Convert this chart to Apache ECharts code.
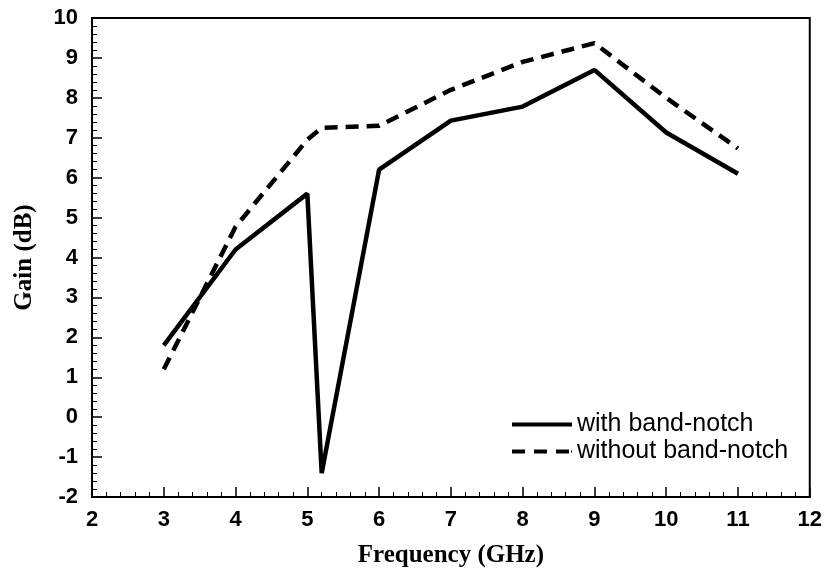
<!DOCTYPE html>
<html>
<head>
<meta charset="utf-8">
<script src="https://cdn.jsdelivr.net/npm/echarts@6/dist/echarts.min.js"></script>
<style>
  html, body { margin: 0; padding: 0; background: #fff; }
  #main { width: 825px; height: 576px; }
</style>
</head>
<body>
<div id="main"></div>
<script>
// data
var freqWith = [3, 4, 5, 5.2, 6, 7, 8, 9, 10, 11];
var gainWith = [1.8, 4.2, 5.6, -1.4, 6.2, 7.43, 7.78, 8.7, 7.13, 6.1];
var freqWithout = [3, 4, 5, 5.2, 6, 7, 8, 9, 10, 11];
var gainWithout = [1.2, 4.77, 6.95, 7.25, 7.3, 8.2, 8.9, 9.37, 8.0, 6.73];
var xRange = [2, 12];
var yRange = [-2, 10];

function pairs(xs, ys) {
  return xs.map(function (x, i) { return [x, ys[i]]; });
}

var tickFont = { color: '#000', fontFamily: 'Liberation Sans', fontWeight: 'bold', fontSize: 22 };
var titleFont = { color: '#000', fontFamily: 'Liberation Serif', fontWeight: 'bold', fontSize: 25 };

// legend keys: a solid bar and three dashes
var solidIcon = 'path://M0,0H60V4H0Z';
var dashIcon = 'path://M0,0H13V4H0ZM22,0H35V4H22ZM44,0H57V4H44ZM59,1H60V3H59Z';

var option = {
  backgroundColor: '#fff',
  animation: false,
  grid: {
    left: 92, top: 18, right: 15, bottom: 79,
    show: true, borderColor: '#000', borderWidth: 2, backgroundColor: 'transparent'
  },
  legend: {
    left: 507, top: 407,
    orient: 'vertical',
    itemWidth: 60, itemHeight: 4, itemGap: 2,
    textStyle: { color: '#000', fontFamily: 'Liberation Sans', fontSize: 25 },
    data: [
      { name: 'with band-notch', icon: solidIcon, itemStyle: { color: '#000' } },
      { name: 'without band-notch', icon: dashIcon, itemStyle: { color: '#000' } }
    ]
  },
  xAxis: {
    type: 'value',
    min: xRange[0], max: xRange[1], interval: 1,
    name: 'Frequency (GHz)', nameLocation: 'middle', nameGap: 46,
    nameTextStyle: titleFont,
    axisLine: { onZero: false, lineStyle: { color: '#000', width: 2 } },
    axisTick: { inside: true, length: 10, lineStyle: { color: '#000', width: 1.5 } },
    minorTick: { show: true, splitNumber: 5, length: 5, lineStyle: { color: '#000', width: 1 } },
    axisLabel: Object.assign({ margin: 12 }, tickFont),
    splitLine: { show: false }
  },
  yAxis: {
    type: 'value',
    min: yRange[0], max: yRange[1], interval: 1,
    name: 'Gain (dB)', nameLocation: 'middle', nameGap: 55,
    nameTextStyle: titleFont,
    axisLine: { onZero: false, lineStyle: { color: '#000', width: 2 } },
    axisTick: { inside: true, length: 10, lineStyle: { color: '#000', width: 1.5 } },
    minorTick: { show: true, splitNumber: 5, length: 5, lineStyle: { color: '#000', width: 1 } },
    axisLabel: Object.assign({ margin: 14 }, tickFont),
    splitLine: { show: false }
  },
  series: [
    {
      name: 'with band-notch',
      type: 'line',
      showSymbol: false,
      symbol: 'none',
      color: '#000',
      lineStyle: { color: '#000', width: 4.5, join: 'bevel' },
      data: pairs(freqWith, gainWith)
    },
    {
      name: 'without band-notch',
      type: 'line',
      showSymbol: false,
      symbol: 'none',
      color: '#000',
      lineStyle: { color: '#000', width: 4.5, type: [13, 8] },
      data: pairs(freqWithout, gainWithout)
    }
  ]
};

var chart = echarts.init(document.getElementById('main'));
chart.setOption(option);
</script>
</body>
</html>
